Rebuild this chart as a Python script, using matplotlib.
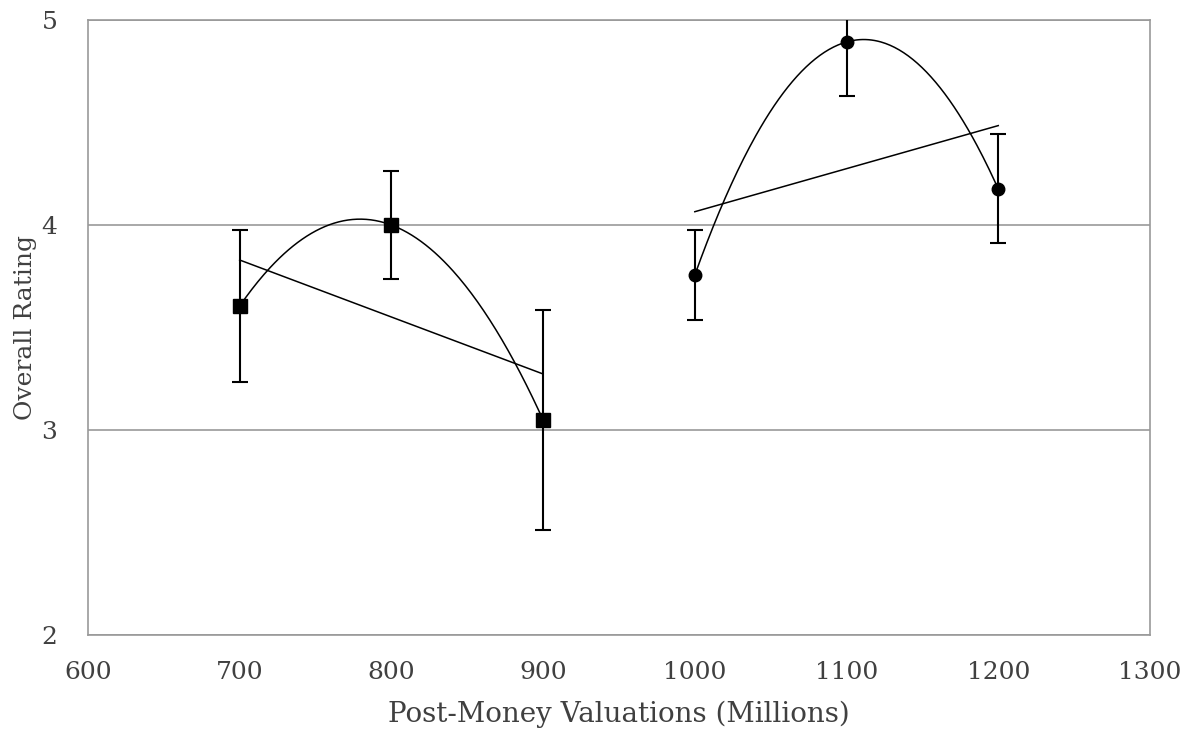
import matplotlib
matplotlib.use("Agg")
import matplotlib.pyplot as plt
import numpy as np

plt.rcParams['font.family'] = ['DejaVu Serif']

# group 1 (squares)
val_a = [700, 800, 900]
rating_a = [3.605, 4.0, 3.049]
err_a = [0.37, 0.262, 0.535]

# group 2 (circles)
val_b = [1000, 1100, 1200]
rating_b = [3.756, 4.893, 4.176]
err_b = [0.22, 0.262, 0.266]

fig = plt.figure(figsize=(11.87, 7.31), dpi=100)
ax = fig.add_axes([0.0741, 0.1313, 0.8947, 0.8413])

for xs, ys, es, mk, ms in [(val_a, rating_a, err_a, 's', 10.5), (val_b, rating_b, err_b, 'o', 9)]:
    xs = np.array(xs, dtype=float)
    ys = np.array(ys)
    # trend lines
    xx = np.linspace(xs[0], xs[-1], 200)
    lin = np.polyfit(xs, ys, 1)
    quad = np.polyfit(xs, ys, 2)
    ax.plot(xx, np.polyval(lin, xx), color='black', lw=1.1, zorder=3)
    ax.plot(xx, np.polyval(quad, xx), color='black', lw=1.1, zorder=3)
    ax.errorbar(xs, ys, yerr=es, fmt=mk, color='black', ms=ms, ecolor='black',
                elinewidth=1.5, capsize=6, capthick=1.5, zorder=4)

ax.set_xlim(600, 1300)
ax.set_ylim(2, 5)
ax.set_xticks(range(600, 1301, 100))
ax.set_yticks([2, 3, 4, 5])
ax.yaxis.grid(True, color='#999999', lw=1.2)
ax.set_axisbelow(True)
for s in ax.spines.values():
    s.set_color('#999999')
    s.set_linewidth(1.2)
ax.tick_params(length=0, labelsize=18, colors='#404040')
ax.tick_params(axis='x', pad=19)
ax.tick_params(axis='y', pad=22)
ax.set_xlabel('Post-Money Valuations (Millions)', fontsize=20, color='#404040', labelpad=12)
ax.set_ylabel('Overall Rating', fontsize=18, color='#404040', labelpad=3)

fig.savefig('out.png', dpi=100)
